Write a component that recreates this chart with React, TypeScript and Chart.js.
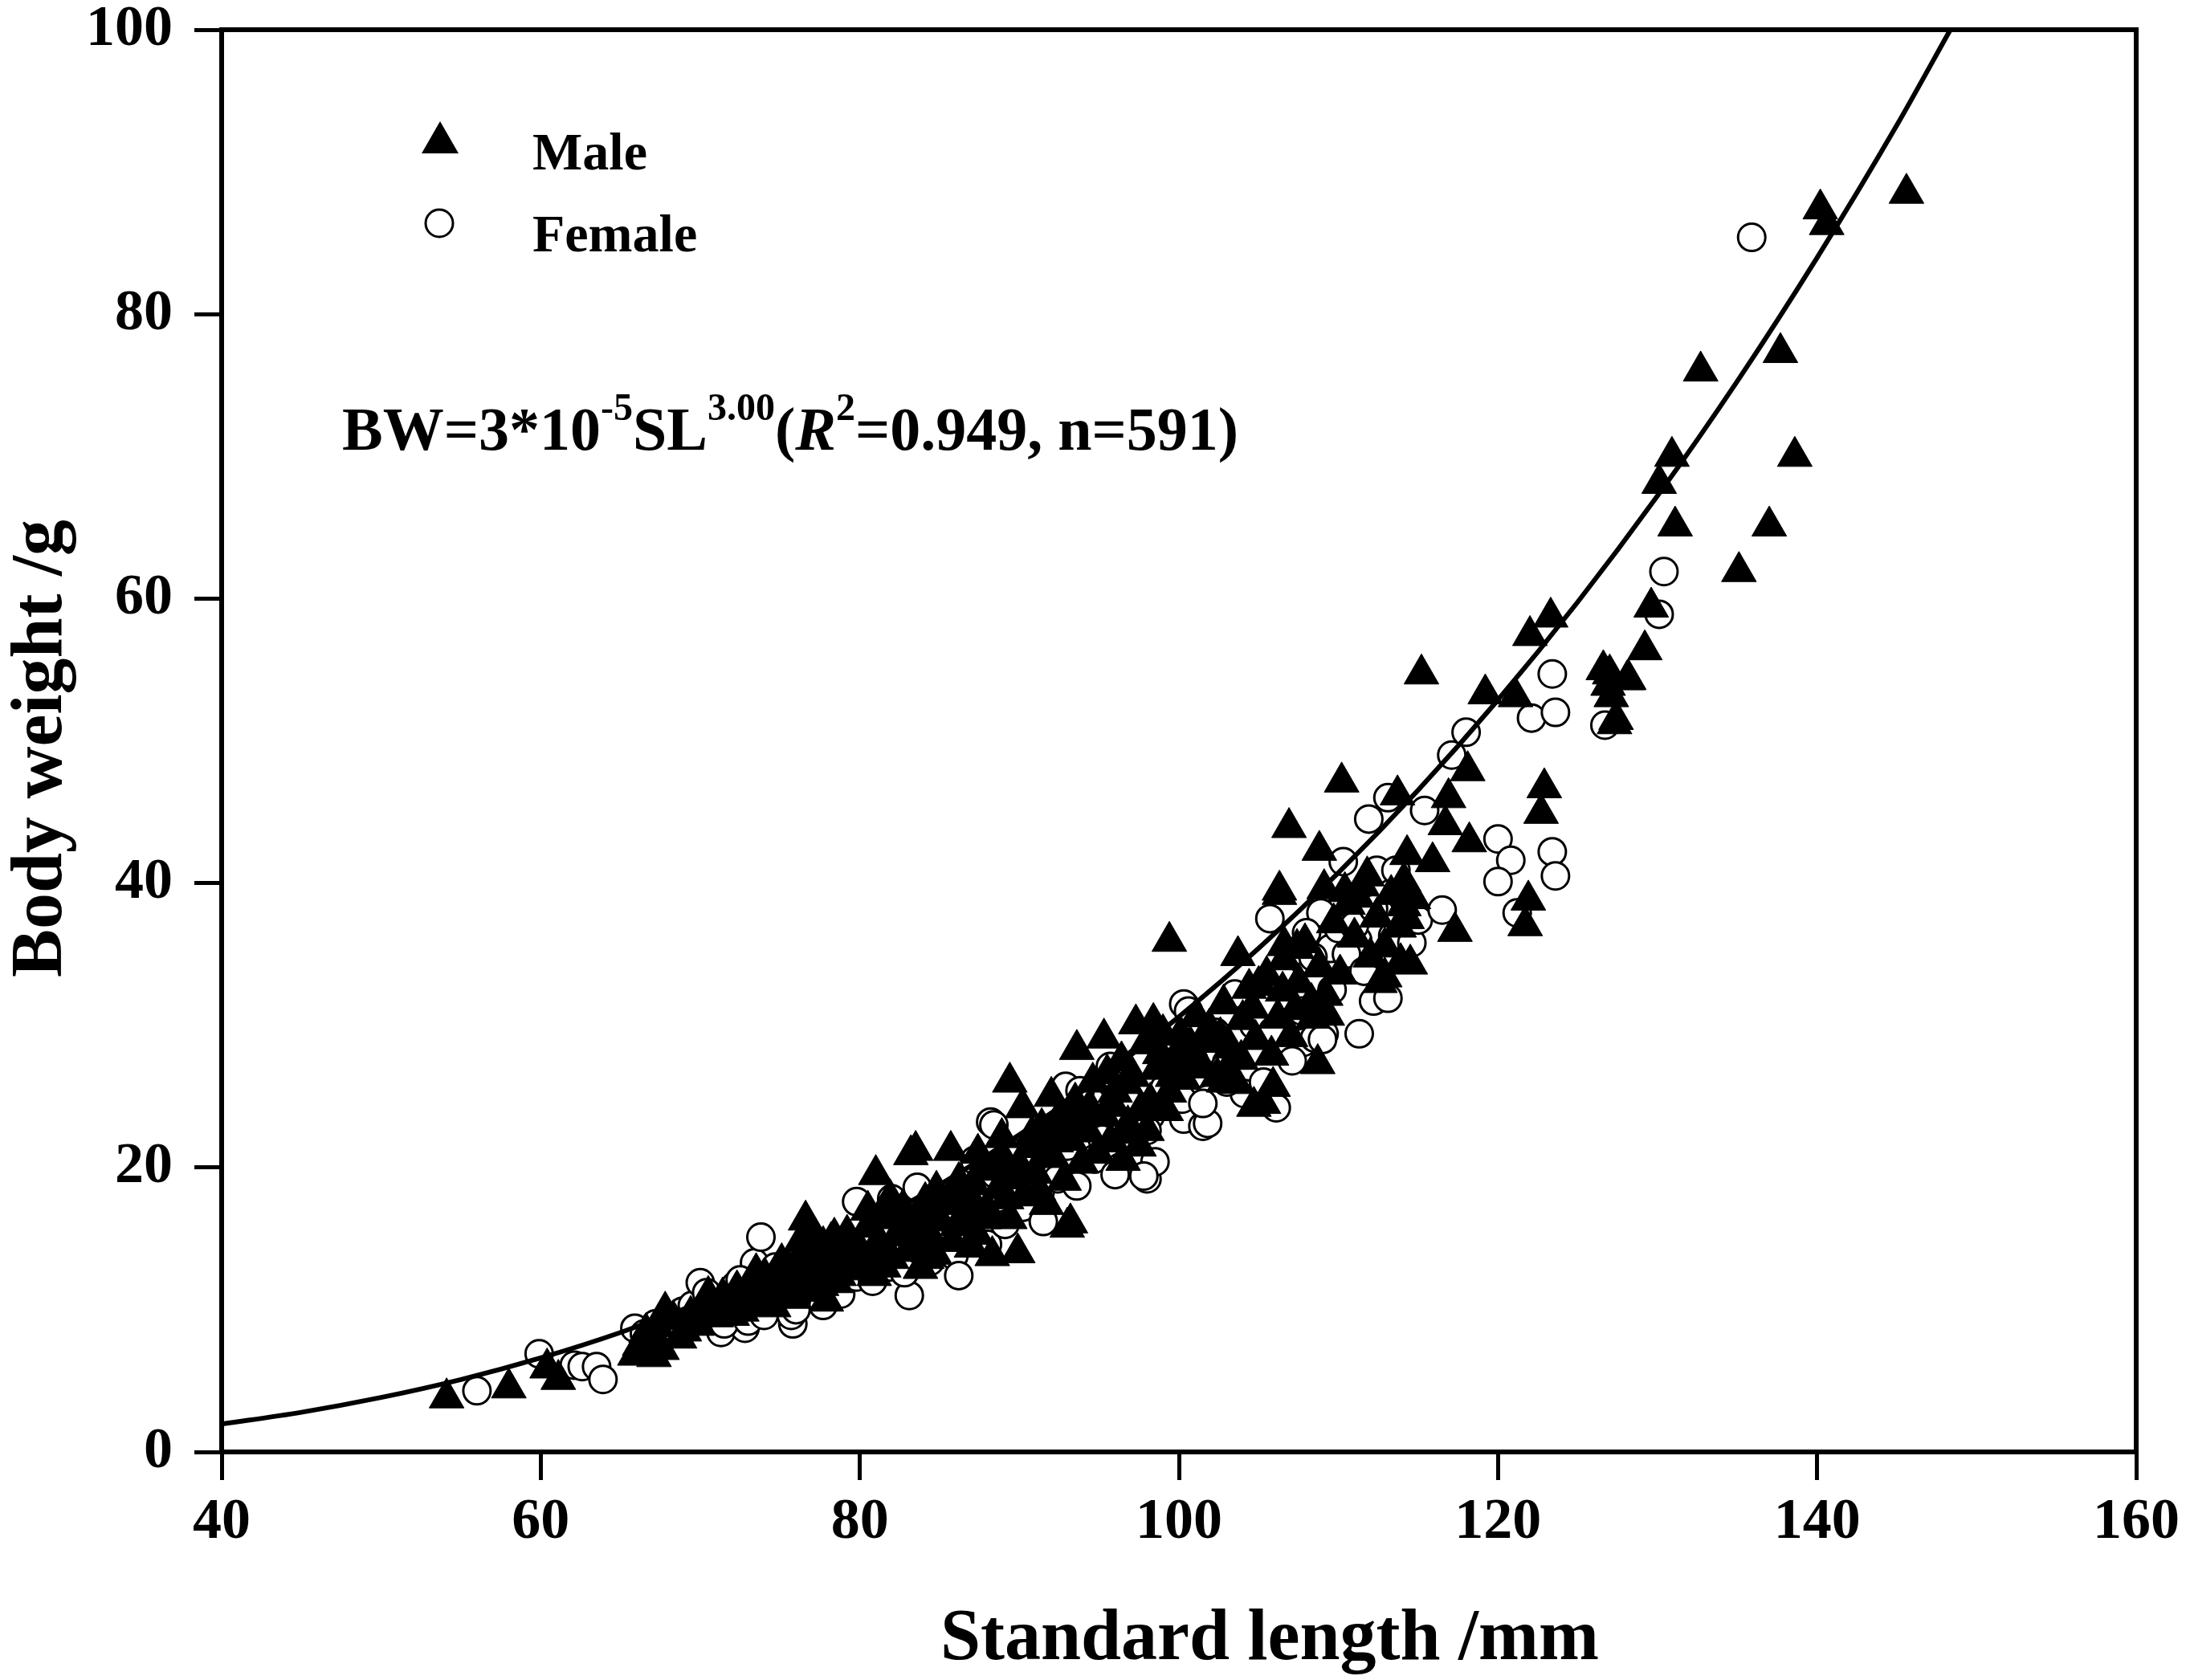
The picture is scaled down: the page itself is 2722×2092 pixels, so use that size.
import React, { useEffect, useRef } from "react";
import { Chart, registerables, Plugin } from "chart.js";

Chart.register(...registerables);

const FONT = "'Liberation Serif', 'Times New Roman', serif";

const xTicks = [40, 60, 80, 100, 120, 140, 160];
const yTicks = [0, 20, 40, 60, 80, 100];

const xTitle = "Standard length /mm";
const yTitle = "Body weight /g";
const seriesNames = ["Male", "Female"];

// fitted curve
const curveSL = [40, 45, 50, 55, 60, 65, 70, 75, 80, 85, 90, 95, 100, 105, 110, 115, 120, 125, 130, 135, 140, 145, 148.35];
const curveBW = [1.96, 2.79, 3.83, 5.09, 6.61, 8.4, 10.5, 12.91, 15.67, 18.79, 22.31, 26.23, 30.6, 35.42, 40.73, 46.54, 52.88, 59.77, 67.23, 75.29, 83.97, 93.29, 100.0];

// [SL mm, BW g]
const male: [number, number][] = [
  [54.1, 3.8], [58.0, 4.5], [60.4, 5.9], [61.1, 5.1], [65.9, 6.8], [66.6, 8.4], [67.8, 9.9], [67.1, 6.7], [69.0, 8.5],
  [66.2, 7.5], [66.8, 7.9], [67.3, 8.8], [67.6, 7.2], [68.3, 9.3], [68.7, 8.0], [69.4, 9.6], [69.8, 8.9],
  [70.5, 11.0], [72.2, 10.8], [70.3, 9.8], [70.6, 10.5], [71.0, 9.5], [71.4, 10.9], [71.8, 10.2], [72.3, 11.4], [72.6, 9.9],
  [73.0, 10.6], [73.3, 11.8], [73.7, 10.3], [74.1, 12.2], [74.4, 11.1], [74.8, 12.7], [74.6, 10.2],
  [71.2, 10.0], [72.0, 9.6], [72.9, 11.2], [73.5, 12.6], [74.0, 11.5], [74.9, 11.9], [73.9, 10.9],
  [75.1, 13.3], [76.6, 16.3], [77.6, 11.7], [78.4, 15.1], [75.2, 11.6], [75.5, 12.9], [75.9, 10.8], [76.2, 13.6], [76.5, 12.1],
  [76.9, 14.2], [77.2, 11.3], [77.5, 13.4], [77.8, 12.6], [78.2, 14.8], [78.5, 11.9], [78.9, 13.9], [79.2, 15.3], [79.6, 12.8],
  [79.9, 14.4], [76.8, 15.6], [77.9, 10.6],
  [75.7, 12.0], [76.3, 14.8], [77.0, 12.9], [77.7, 14.5], [78.7, 12.4], [79.4, 13.6], [78.0, 13.3], [76.0, 11.9],
  [81.0, 19.5], [83.2, 20.9], [80.5, 17.0], [83.5, 21.2], [80.2, 13.2], [80.5, 15.8], [80.9, 12.4], [81.3, 14.6], [81.6, 16.4],
  [82.0, 13.6], [82.3, 15.2], [82.7, 17.1], [83.0, 14.1], [83.4, 16.0], [83.8, 12.9], [84.1, 17.6], [84.5, 15.0], [84.8, 18.4],
  [84.2, 13.6], [85.0, 16.3],
  [80.8, 14.1], [81.5, 13.0], [82.2, 16.6], [82.9, 15.6], [83.6, 14.6], [84.3, 16.8], [81.9, 17.8], [84.7, 13.9], [80.0, 13.9],
  [85.7, 21.2], [85.4, 17.4], [85.8, 14.8], [86.2, 19.0], [86.5, 16.2], [86.9, 17.9], [87.3, 15.3], [87.6, 19.8], [88.0, 17.0],
  [88.3, 13.8], [88.7, 18.5], [89.0, 20.6], [89.4, 16.4], [89.7, 19.2], [89.9, 14.0], [88.9, 22.1], [87.4, 21.0], [89.4, 26.0],
  [85.9, 18.2], [86.7, 17.0], [87.1, 18.8], [87.8, 16.4], [88.5, 19.9], [89.2, 17.8], [86.1, 15.9], [87.0, 14.4],
  [90.2, 24.2], [93.2, 24.0], [93.2, 16.1], [93.6, 28.3], [90.3, 18.0], [90.6, 21.4], [91.0, 19.6], [91.4, 22.8], [91.7, 17.4],
  [92.1, 20.7], [92.5, 23.5], [92.8, 19.1], [93.2, 21.9], [93.5, 24.6], [93.9, 20.3], [94.3, 22.5], [94.6, 26.0], [94.9, 21.0],
  [93.0, 15.8], [92.0, 25.0],
  [90.8, 22.3], [91.6, 20.9], [92.3, 21.8], [93.8, 23.2], [94.4, 24.2], [90.0, 20.1], [91.2, 18.4], [92.7, 22.9],
  [95.3, 29.1], [97.3, 30.1], [98.4, 30.2], [99.2, 24.0], [95.3, 23.6], [95.7, 21.8], [96.0, 25.3], [96.4, 27.5], [96.8, 23.0],
  [97.1, 26.4], [97.5, 21.5], [97.9, 28.7], [98.2, 24.6], [98.6, 26.9], [99.0, 29.4], [99.4, 25.3], [99.8, 27.8], [96.5, 20.5],
  [98.0, 22.6], [99.4, 35.9],
  [95.9, 24.3], [96.7, 25.9], [97.6, 24.0], [98.8, 28.0], [99.6, 26.4], [95.5, 26.6], [97.0, 22.4],
  [102.8, 26.0], [104.7, 24.3], [103.7, 34.9], [100.3, 26.2], [100.7, 28.6], [101.1, 30.6], [101.5, 27.0], [101.9, 29.8],
  [102.4, 26.4], [102.8, 31.5], [103.2, 28.4], [103.6, 25.9], [104.0, 30.4], [104.4, 32.6], [104.8, 29.0], [103.0, 26.8],
  [100.9, 27.4], [101.7, 28.8], [102.6, 29.2], [103.9, 27.6], [104.6, 31.2], [100.1, 29.3],
  [106.3, 39.2], [108.7, 27.3], [105.3, 24.5], [105.9, 25.7], [107.3, 31.1], [108.4, 30.5], [106.5, 32.4], [106.9, 43.9],
  [108.8, 42.3], [106.3, 39.5], [109.1, 39.6], [106.6, 35.6], [107.4, 35.4], [105.0, 32.8], [109.2, 32.1], [105.5, 33.5],
  [105.8, 27.9], [106.2, 30.5], [106.6, 34.6], [107.0, 29.2], [107.5, 33.0], [107.9, 35.8], [108.3, 31.6], [108.8, 34.1],
  [109.3, 30.7], [109.7, 37.2], [110.1, 33.6],
  [110.2, 47.1], [110.4, 39.4], [111.2, 39.0], [112.9, 33.4], [113.9, 34.4], [110.6, 38.5], [111.0, 36.2], [111.5, 39.8],
  [112.0, 34.8], [112.4, 37.6], [112.9, 35.5], [113.3, 39.2], [113.8, 36.9], [114.3, 42.0], [114.7, 38.9], [112.6, 33.0],
  [111.8, 40.5], [113.7, 46.2], [114.1, 40.1], [114.1, 38.4], [114.3, 37.5], [114.5, 34.3],
  [115.2, 54.7], [116.9, 46.0], [116.7, 44.1], [118.2, 42.9], [115.9, 41.5], [118.1, 47.9], [117.3, 36.6], [119.2, 53.3],
  [121.1, 53.1], [122.0, 57.4], [123.3, 58.7], [122.9, 46.7], [122.7, 44.9], [121.9, 38.8], [121.7, 37.0],
  [126.9, 53.9], [127.1, 53.1], [127.3, 51.2], [126.6, 55.0], [128.2, 54.3], [128.1, 54.3], [127.0, 54.7], [127.4, 51.5],
  [129.2, 56.4], [129.6, 59.4], [130.1, 68.1], [130.9, 70.0], [131.1, 65.1], [132.7, 76.0], [135.1, 61.9], [137.0, 65.1],
  [137.7, 77.3], [138.6, 70.0], [140.2, 87.4], [140.6, 86.3], [145.6, 88.5],
];

const female: [number, number][] = [
  [56.0, 4.3], [59.9, 6.9], [62.1, 6.1], [62.6, 6.0], [63.5, 6.0], [63.9, 5.1], [65.9, 8.7],
  [66.5, 8.3], [67.2, 9.0], [68.0, 8.7], [68.9, 9.9], [69.5, 10.3],
  [70.0, 11.9], [72.2, 11.7], [73.4, 13.3], [73.8, 15.1], [71.3, 8.4], [72.8, 8.7], [70.4, 11.2], [70.9, 10.0], [71.5, 9.0],
  [72.0, 10.4], [72.5, 12.1], [73.0, 9.2], [73.6, 11.0], [74.2, 10.6], [74.7, 13.0], [74.0, 9.6],
  [75.8, 9.0], [79.8, 17.6], [75.3, 12.4], [75.7, 9.6], [76.3, 11.6], [76.7, 14.0], [77.3, 12.8], [77.7, 10.3], [78.3, 13.4],
  [78.8, 11.1], [79.3, 14.6], [79.8, 12.3], [76.0, 10.0],
  [83.1, 11.0], [80.3, 14.3], [80.8, 12.0], [81.4, 15.5], [81.9, 13.0], [82.4, 16.8], [82.8, 12.6], [83.3, 14.7], [83.9, 17.4],
  [84.4, 13.4], [84.9, 15.9], [83.6, 18.6], [82.0, 17.8],
  [88.2, 23.2], [85.3, 16.5], [85.9, 13.8], [86.4, 18.4], [86.9, 15.1], [87.5, 17.2], [88.0, 14.6], [88.5, 19.5], [89.1, 16.0],
  [89.6, 21.0], [86.2, 12.4], [87.2, 20.5], [88.4, 23.0],
  [92.9, 25.7], [90.2, 17.2], [90.8, 20.4], [91.3, 18.3], [91.9, 22.1], [92.4, 19.2], [93.0, 21.5], [93.6, 18.7], [94.1, 23.9],
  [94.7, 20.6], [91.5, 16.2], [93.8, 25.4],
  [95.7, 27.1], [98.2, 23.6], [98.0, 19.2], [95.2, 22.0], [95.8, 25.9], [96.3, 20.0], [96.9, 24.5], [97.4, 27.4], [98.0, 22.6],
  [98.5, 20.4], [99.1, 25.6], [99.6, 28.3], [96.0, 19.5], [97.8, 19.4],
  [100.3, 23.4], [101.5, 22.9], [100.3, 31.5], [100.2, 24.8], [100.6, 31.0], [101.2, 26.6], [101.8, 23.1], [102.3, 29.5],
  [102.9, 27.1], [103.5, 32.2], [104.1, 25.2], [104.7, 30.0], [103.0, 26.0], [101.5, 24.5],
  [105.7, 37.5], [109.5, 35.4], [106.1, 24.2], [107.8, 28.8], [109.1, 29.4], [108.9, 37.9], [111.2, 36.0], [108.5, 29.1],
  [105.3, 26.0], [105.9, 29.6], [106.5, 33.3], [107.1, 27.5], [107.7, 31.0], [108.4, 34.8], [109.0, 29.0], [109.6, 32.5],
  [110.0, 36.8], [108.0, 36.5],
  [111.3, 29.4], [112.2, 31.7], [113.1, 31.9], [111.9, 44.5], [113.1, 46.0], [110.3, 41.5], [112.4, 40.9], [113.6, 40.9],
  [110.5, 35.0], [111.0, 37.0], [111.6, 33.8], [112.2, 38.2], [112.8, 34.9], [113.4, 36.3], [114.0, 39.0], [114.6, 35.8],
  [115.0, 37.4],
  [115.4, 45.1], [116.5, 38.1], [117.1, 49.0], [118.0, 50.6], [120.0, 43.1], [120.8, 41.6], [120.0, 40.1], [121.2, 37.9],
  [123.4, 42.2], [123.6, 40.5], [122.1, 51.6], [123.6, 52.0], [123.4, 54.7], [126.7, 51.1],
  [130.1, 58.9], [130.4, 61.9], [135.9, 85.4],
];

const framePlugin: Plugin = {
  id: "frame",
  afterDraw(chart) {
    const { ctx, chartArea: a } = chart;
    ctx.save();
    ctx.strokeStyle = "#000";
    ctx.lineWidth = 6;
    ctx.strokeRect(a.left, a.top, a.right - a.left, a.bottom - a.top);
    ctx.restore();
  },
};

const textPlugin: Plugin = {
  id: "texts",
  afterDraw(chart) {
    const ctx = chart.ctx;
    ctx.save();
    ctx.fillStyle = "#000";

    // axis titles
    ctx.font = `bold 90px ${FONT}`;
    ctx.textAlign = "center";
    ctx.textBaseline = "alphabetic";
    ctx.fillText(xTitle, 1581, 2066);
    ctx.save();
    ctx.translate(76, 932);
    ctx.rotate(-Math.PI / 2);
    ctx.fillText(yTitle, 0, 0);
    ctx.restore();

    // legend
    ctx.beginPath();
    ctx.moveTo(548, 151);
    ctx.lineTo(571, 191);
    ctx.lineTo(525, 191);
    ctx.closePath();
    ctx.fill();
    ctx.beginPath();
    ctx.arc(547, 278, 17, 0, Math.PI * 2);
    ctx.fillStyle = "#fff";
    ctx.fill();
    ctx.lineWidth = 3;
    ctx.strokeStyle = "#000";
    ctx.stroke();
    ctx.fillStyle = "#000";
    ctx.font = `bold 66px ${FONT}`;
    ctx.textAlign = "left";
    ctx.fillText(seriesNames[0], 663, 211);
    ctx.fillText(seriesNames[1], 663, 313);

    // equation
    const base = 560;
    const big = `bold 76px ${FONT}`;
    const sup = `bold 48px ${FONT}`;
    const parts: [string, string, number][] = [
      ["BW=3*10", big, 0],
      ["-5", sup, -37],
      ["SL", big, 0],
      ["3.00", sup, -37],
      ["(", big, 0],
      ["R", `italic bold 76px ${FONT}`, 0],
      ["2", sup, -37],
      ["=0.949, n=591)", big, 0],
    ];
    let x = 426;
    for (const [t, f, dy] of parts) {
      ctx.font = f;
      ctx.fillText(t, x, base + dy);
      x += ctx.measureText(t).width;
    }
    ctx.restore();
  },
};

export default function App() {
  const canvas = useRef<HTMLCanvasElement>(null);

  useEffect(() => {
    document.body.style.margin = "0";
    const tickFont = { family: FONT, size: 72, weight: "bold" as const };
    const chart = new Chart(canvas.current!, {
      type: "scatter",
      data: {
        datasets: [
          {
            type: "line",
            label: "fit",
            data: curveSL.map((v, i) => ({ x: v, y: curveBW[i] })),
            borderColor: "#000",
            borderWidth: 6,
            pointRadius: 0,
            fill: false,
            showLine: true,
            cubicInterpolationMode: "monotone",
          },
          {
            label: seriesNames[0],
            data: male.map(([x, y]) => ({ x, y })),
            pointStyle: "triangle",
            pointRadius: 25,
            backgroundColor: "#000",
            borderColor: "#000",
            borderWidth: 1,
          },
          {
            label: seriesNames[1],
            data: female.map(([x, y]) => ({ x, y })),
            pointStyle: "circle",
            pointRadius: 17,
            backgroundColor: "#fff",
            borderColor: "#000",
            borderWidth: 3,
          },
        ],
      } as any,
      options: {
        responsive: false,
        animation: false,
        devicePixelRatio: 1,
        layout: { padding: { top: 37, right: 62, left: 0, bottom: 0 } },
        plugins: { legend: { display: false }, tooltip: { enabled: false } },
        scales: {
          x: {
            type: "linear",
            min: 40,
            max: 160,
            afterFit: (s: any) => {
              s.height = 284;
              s.paddingLeft = 0;
              s.paddingRight = 0;
            },
            afterBuildTicks: (s) => {
              s.ticks = xTicks.map((value) => ({ value }));
            },
            grid: { drawOnChartArea: false, drawTicks: true, tickLength: 35, tickWidth: 5, tickColor: "#000" },
            border: { display: true, color: "#000", width: 6 },
            ticks: { font: tickFont, color: "#000", padding: 10, maxRotation: 0 },
          },
          y: {
            type: "linear",
            min: 0,
            max: 100,
            afterFit: (s: any) => {
              s.width = 276;
              s.paddingTop = 0;
              s.paddingBottom = 0;
            },
            afterBuildTicks: (s) => {
              s.ticks = yTicks.map((value) => ({ value }));
            },
            grid: { drawOnChartArea: false, drawTicks: true, tickLength: 34, tickWidth: 5, tickColor: "#000" },
            border: { display: true, color: "#000", width: 6 },
            ticks: { font: tickFont, color: "#000", padding: 27 },
          },
        },
      },
      plugins: [framePlugin, textPlugin],
    });
    return () => chart.destroy();
  }, []);

  return (
    <div style={{ width: 2722, height: 2092, background: "#fff" }}>
      <canvas ref={canvas} width={2722} height={2092} style={{ display: "block", width: 2722, height: 2092 }} />
    </div>
  );
}
